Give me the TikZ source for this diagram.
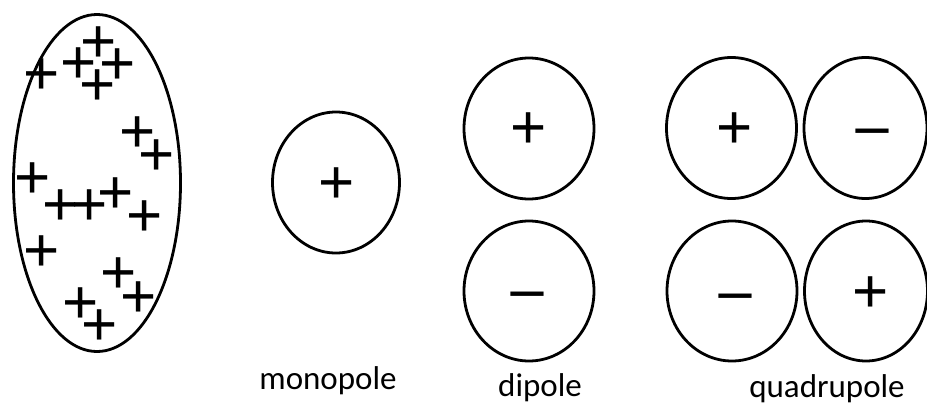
\documentclass[tikz,border=0pt]{standalone}
\usepackage{fontspec}
\setmainfont{Carlito}
\newfontfamily\chgfont{Liberation Sans}
\usetikzlibrary{shapes.geometric}
\tikzset{
  outline/.style={draw, line width=2.8pt, ellipse, inner sep=0pt},
  plusq/.style={inner sep=0pt, anchor=base, yshift=-20.3pt, font=\chgfont\fontsize{62}{62}\selectfont},
  minusq/.style={inner sep=0pt, anchor=base, yshift=-21.5pt, font=\chgfont\fontsize{61}{61}\selectfont},
  lbl/.style={anchor=base, inner sep=0pt, font=\fontsize{33}{40}\selectfont}
}
\newcommand{\negsign}{\scalebox{1.12}[1]{\char"2212}}
\begin{document}
\begin{tikzpicture}[x=1pt,y=-1pt]
\useasboundingbox (0,0) rectangle (927,405);
% big charged body
\node[outline, minimum width=167pt, minimum height=337pt] (body) at (97,183) {};
\foreach \n/\px/\py in {p1/99/42, p2/79/63, p3/118/64, p4/42/74, p5/98/85,
  p6/138/132, p7/157/155, p8/33/178, p9/61/205, p10/90/205, p11/116/193,
  p12/145/216, p13/42/251, p14/119/273, p15/139/297, p16/81/303, p17/100/325}
  \node[plusq] (\n) at (\px,\py) {+};
% monopole
\node[outline, minimum width=127pt, minimum height=141pt] (mono) at (336,182.5) {};
\node[plusq] (monoq) at (337,183) {+};
\node[lbl] (monolbl) at (328,389) {monopole};
% dipole
\node[outline, minimum width=130pt, minimum height=141pt] (dtop) at (529,128.5) {};
\node[outline, minimum width=130pt, minimum height=140pt] (dbot) at (529,291) {};
\node[plusq] (dtopq) at (529,128) {+};
\node[minusq] (dbotq) at (527,293) {\negsign};
\node[lbl] (diplbl) at (540,396) {dipole};
% quadrupole
\node[outline, minimum width=130pt, minimum height=141pt] (qtl) at (731.5,128) {};
\node[outline, minimum width=123pt, minimum height=141pt] (qtr) at (865.5,128) {};
\node[outline, minimum width=130pt, minimum height=140pt] (qbl) at (732,291) {};
\node[outline, minimum width=123pt, minimum height=140pt] (qbr) at (866,291) {};
\node[plusq] (qtlq) at (735,128) {+};
\node[minusq] (qtrq) at (872,130) {\negsign};
\node[minusq] (qblq) at (735,295) {\negsign};
\node[plusq] (qbrq) at (871,292) {+};
\node[lbl] (quadlbl) at (827,397) {quadrupole};
\end{tikzpicture}
\end{document}
